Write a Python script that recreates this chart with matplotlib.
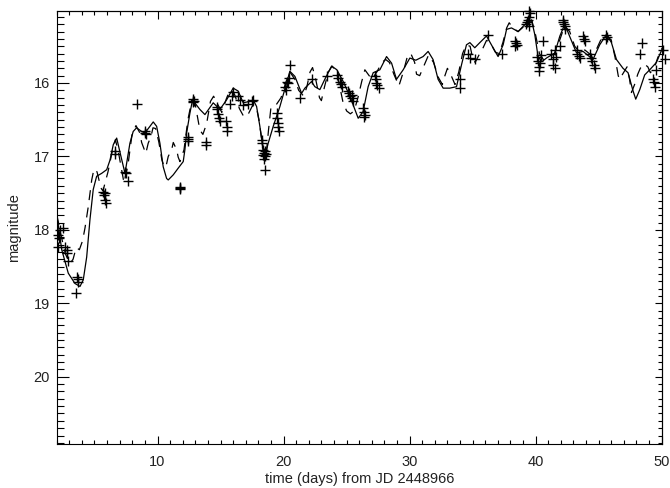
import numpy as np
import matplotlib
matplotlib.use("Agg")
import matplotlib.pyplot as plt
from matplotlib.ticker import MultipleLocator, FixedLocator

plt.rcParams['font.family'] = ['Liberation Sans', 'DejaVu Sans']

# model light curve (solid)
solid_t = [2.0, 2.08, 2.40, 2.92, 3.45, 3.85, 4.11, 4.38, 4.64, 4.90, 5.17, 5.57,
           5.97, 6.23, 6.49, 6.76, 7.10, 7.42, 7.81, 8.07, 8.34, 8.74, 9.00, 9.40,
           9.66, 9.93, 10.19, 10.45, 10.72, 10.85, 11.25, 11.64, 12.04, 12.17, 12.31,
           12.57, 12.78, 13.36, 13.76, 14.42, 14.95, 15.48, 16.00, 16.40, 16.80,
           17.33, 17.59, 17.86, 18.12, 18.38, 18.52, 18.78, 19.18, 19.71, 20.24,
           20.50, 20.90, 21.43, 21.69, 22.22, 22.48, 22.88, 23.27, 23.81, 24.23,
           24.73, 25.26, 25.92, 26.31, 26.71, 27.11, 27.64, 28.17, 28.57, 28.96,
           29.49, 30.02, 30.49, 31.07, 31.47, 31.86, 32.26, 32.66, 33.19, 33.72,
           34.12, 34.51, 34.78, 35.17, 35.57, 36.10, 36.62, 37.02, 37.42, 37.69,
           38.08, 38.61, 39.00, 39.40, 39.67, 39.93, 40.19, 40.49, 40.86, 41.52,
           41.92, 42.31, 42.71, 43.24, 43.76, 44.55, 45.08, 45.62, 46.01, 46.41,
           46.93, 47.33, 47.73, 47.94, 48.26, 48.65, 49.05, 49.58, 50.05]
solid_mag = [17.82, 17.88, 18.27, 18.59, 18.73, 18.77, 18.68, 18.37, 17.86, 17.45, 17.27, 17.23,
             17.18, 17.05, 16.84, 16.75, 17.00, 17.23, 16.82, 16.66, 16.61, 16.66, 16.68, 16.59,
             16.53, 16.59, 16.82, 17.14, 17.30, 17.32, 17.25, 17.16, 17.07, 16.91, 16.68,
             16.41, 16.23, 16.36, 16.43, 16.27, 16.36, 16.23, 16.07, 16.11, 16.27,
             16.25, 16.23, 16.32, 16.59, 16.91, 17.00, 16.82, 16.59, 16.32, 16.00,
             15.84, 15.91, 16.14, 16.07, 15.98, 16.05, 16.09, 15.95, 15.77, 15.82,
             15.98, 16.18, 16.48, 16.39, 16.05, 15.86, 15.82, 15.64, 15.73, 15.95,
             15.82, 15.66, 15.69, 15.64, 15.57, 15.68, 15.95, 16.07, 16.07, 16.05,
             15.75, 15.48, 15.45, 15.52, 15.45, 15.36, 15.52, 15.64, 15.48, 15.27,
             15.25, 15.30, 15.23, 15.16, 15.14, 15.34, 15.64, 15.71, 15.66, 15.59,
             15.36, 15.20, 15.37, 15.59, 15.57, 15.68, 15.48, 15.34, 15.45, 15.68,
             15.80, 15.86, 16.11, 16.22, 16.09, 15.89, 15.82, 15.72, 15.53]

# second model (dashed)
dashed_t = [2.02, 2.35, 2.70, 3.05, 3.30, 3.55, 3.80, 4.05, 4.25, 4.50, 4.78, 4.96,
            5.20, 5.51, 5.67, 6.07, 6.47, 6.66, 6.94, 7.34, 7.66, 7.97, 8.29, 8.60,
            8.74, 9.07, 9.26, 9.48, 9.64, 9.85, 10.10, 10.35, 10.55, 10.72, 10.85,
            11.12, 11.25, 11.52, 11.64, 11.78, 12.10, 12.41, 12.73, 13.00, 13.36,
            13.60, 13.90, 14.20, 14.45, 14.80, 15.10, 15.45, 15.75, 16.10, 16.50,
            16.85, 17.15, 17.50, 17.70, 17.90, 18.05, 18.25, 18.45, 18.60, 18.80,
            19.00, 19.40, 19.80, 20.20, 20.50, 20.90, 21.20, 21.60, 21.85, 22.10,
            22.30, 22.55, 22.85, 23.00, 23.25, 23.55, 23.85, 24.20, 24.40, 24.70,
            25.00, 25.30, 25.60, 25.90, 26.20, 26.45, 26.70, 27.00, 27.40, 27.80,
            28.10, 28.40, 28.75, 29.15, 29.50, 29.85, 30.10, 30.40, 30.55, 30.80,
            31.10, 31.50, 31.90, 32.30, 32.60, 32.80, 33.00, 33.30, 33.60, 33.90,
            34.20, 34.50, 34.80, 35.00, 35.20, 35.50, 35.75, 36.10, 36.40, 36.80,
            37.10, 37.40, 37.70, 37.90, 38.20, 38.60, 39.00, 39.40, 39.70, 40.00,
            40.30, 40.60, 41.00, 41.50, 41.90, 42.30, 42.70, 43.10, 43.50, 43.90,
            44.40, 44.80, 45.20, 45.60, 46.00, 46.30, 46.55, 46.65, 47.00, 47.25,
            47.45, 47.60, 47.85, 48.10, 48.30, 48.60, 48.90, 49.10, 49.40, 49.70,
            50.05]
dashed_mag = [17.80, 18.08, 18.33, 18.46, 18.40, 18.24, 18.27, 18.15, 17.97, 17.69, 17.32, 17.17,
              17.21, 17.43, 17.47, 17.21, 16.88, 16.77, 16.98, 17.36, 17.11, 16.71, 16.58, 16.68,
              16.81, 16.96, 16.82, 16.73, 16.61, 16.62, 16.80, 17.05, 17.15, 17.10, 17.00,
              16.91, 16.81, 16.91, 17.01, 17.07, 16.91, 16.50, 16.23, 16.30, 16.64,
              16.70, 16.55, 16.25, 16.18, 16.30, 16.40, 16.22, 16.09, 16.15, 16.35,
              16.46, 16.44, 16.32, 16.30, 16.38, 16.50, 16.75, 16.98, 17.02, 16.65,
              16.33, 16.30, 16.20, 15.98, 15.85, 15.95, 16.10, 16.18, 16.05, 15.85,
              15.79, 15.95, 16.20, 16.24, 16.05, 15.85, 15.77, 15.85, 16.00, 16.25,
              16.38, 16.42, 16.38, 16.20, 15.98, 15.82, 15.88, 15.95, 15.85, 15.72,
              15.68, 15.72, 15.88, 16.04, 15.85, 15.62, 15.60, 15.72, 15.88, 15.90,
              15.78, 15.62, 15.72, 15.93, 16.02, 15.90, 15.80, 15.90, 16.02, 15.85,
              15.60, 15.48, 15.50, 15.66, 15.72, 15.62, 15.55, 15.42, 15.45, 15.58,
              15.60, 15.45, 15.25, 15.18, 15.25, 15.30, 15.24, 15.17, 15.15, 15.35,
              15.60, 15.68, 15.64, 15.60, 15.42, 15.22, 15.30, 15.50, 15.58, 15.55,
              15.62, 15.55, 15.40, 15.34, 15.42, 15.65, 15.90, 15.95, 15.85, 15.78,
              15.95, 16.13, 16.02, 15.88, 15.80, 15.74, 15.78, 15.86, 15.80, 15.65,
              15.52]

# observed magnitudes
obs_t = [2.26, 2.52, 2.13, 2.18, 2.13, 2.66, 2.79, 2.79, 2.92, 3.59, 3.71, 3.71, 3.51,
         5.70, 5.77, 5.83, 5.89, 5.83, 6.62, 6.62, 7.42, 7.50, 7.68, 8.34,
         9.03, 9.00, 9.10, 11.78, 11.78, 11.82, 12.44, 12.44, 12.44,
         12.80, 12.83, 12.86, 12.78, 13.82, 13.82,
         14.69, 14.75, 14.79, 14.85, 14.95, 15.45, 15.50, 15.52,
         15.74, 15.88, 15.95, 16.40, 16.54, 16.80, 17.20, 17.46, 17.60,
         18.26, 18.26, 18.38, 18.44, 18.50, 18.40, 18.52, 18.46, 18.60, 18.52,
         19.45, 19.50, 19.55, 19.55, 19.60,
         20.10, 20.20, 20.25, 20.35, 20.45, 20.50, 21.29, 22.22, 23.41,
         24.20, 24.35, 24.45, 24.55, 24.65,
         25.10, 25.20, 25.30, 25.40, 25.45, 25.50,
         26.31, 26.38, 26.45, 26.40,
         27.24, 27.30, 27.37, 27.45, 27.55,
         33.98, 34.00, 34.64, 34.78, 35.17, 36.23, 37.29,
         38.34, 38.42, 38.48, 38.40,
         39.27, 39.35, 39.40, 39.47, 39.53, 39.45, 39.50,
         40.10, 40.20, 40.25, 40.30, 40.35, 40.45, 40.55,
         41.25, 41.35, 41.40, 41.50, 41.55, 41.65, 41.90,
         42.17, 42.20, 42.25, 42.30, 42.31,
         43.24, 43.30, 43.40, 43.50, 43.76, 43.85, 43.90,
         44.29, 44.40, 44.50, 44.60, 44.69, 45.60, 45.65, 45.62,
         48.40, 48.26, 49.31, 49.38, 49.45, 49.58, 50.10, 50.24]
obs_mag = [18.00, 17.98, 18.07, 18.11, 18.23, 18.23, 18.27, 18.32, 18.43, 18.64, 18.67, 18.71, 18.86,
           17.48, 17.52, 17.59, 17.63, 17.50, 16.93, 16.96, 17.21, 17.23, 17.34, 16.28,
           16.66, 16.68, 16.70, 17.41, 17.43, 17.45, 16.73, 16.76, 16.79,
           16.24, 16.22, 16.25, 16.26, 16.80, 16.84,
           16.32, 16.36, 16.42, 16.47, 16.52, 16.52, 16.60, 16.66,
           16.28, 16.18, 16.12, 16.18, 16.23, 16.30, 16.29, 16.25, 16.23,
           16.77, 16.82, 16.91, 16.95, 17.00, 16.98, 16.93, 17.03, 16.97, 17.18,
           16.41, 16.48, 16.55, 16.60, 16.66,
           16.05, 16.10, 15.98, 16.00, 15.93, 15.75, 16.20, 15.95, 15.91,
           15.89, 15.93, 15.98, 16.02, 16.05,
           16.11, 16.14, 16.18, 16.16, 16.21, 16.25,
           16.34, 16.39, 16.43, 16.46,
           15.91, 15.95, 16.00, 16.03, 16.07,
           15.95, 16.07, 15.61, 15.66, 15.68, 15.34, 15.61,
           15.43, 15.46, 15.48, 15.50,
           15.20, 15.17, 15.14, 15.10, 15.05, 15.23, 15.02,
           15.65, 15.70, 15.78, 15.84, 15.73, 15.62, 15.43,
           15.60, 15.68, 15.75, 15.80, 15.55, 15.64, 15.50,
           15.14, 15.17, 15.20, 15.23, 15.27,
           15.55, 15.60, 15.63, 15.66, 15.36, 15.40, 15.43,
           15.61, 15.66, 15.70, 15.75, 15.80, 15.34, 15.37, 15.40,
           15.45, 15.61, 15.95, 15.99, 16.05, 15.82, 15.55, 15.68]

x_major = [10, 20, 30, 40, 50]
y_major = [16, 17, 18, 19, 20]

fig = plt.figure(figsize=(6.7, 4.88), dpi=100)
ax = fig.add_axes([0.0846, 0.0895, 0.9034, 0.8879])

ax.plot(solid_t, solid_mag, color='black', lw=0.9)
ax.plot(dashed_t, dashed_mag, color='black', lw=0.9, linestyle=(0, (8, 6)))
ax.plot(obs_t, obs_mag, linestyle='none', marker='+', color='black',
        markersize=7.5, mew=1.0, clip_on=False)

ax.set_xlim(2.0, 50.02)
ax.set_ylim(20.92, 15.02)

txt = '#222222'
for s in ax.spines.values():
    s.set_linewidth(0.8)

ax.xaxis.set_major_locator(FixedLocator(x_major))
ax.xaxis.set_minor_locator(MultipleLocator(1))
ax.yaxis.set_major_locator(FixedLocator(y_major))
ax.yaxis.set_minor_locator(MultipleLocator(0.1))
ax.tick_params(axis='x', which='both', direction='in', top=False, labelsize=10.5,
               labelcolor=txt, pad=8, width=0.8)
ax.tick_params(axis='x', which='major', length=5.8)
ax.tick_params(axis='x', which='minor', length=2.6)
ax.tick_params(axis='y', which='both', direction='in', right=False, labelsize=10.5,
               labelcolor=txt, pad=5, width=0.8)
ax.tick_params(axis='y', which='major', length=8.4)
ax.tick_params(axis='y', which='minor', length=4.8)

top = ax.secondary_xaxis('top')
top.xaxis.set_major_locator(FixedLocator(x_major))
top.xaxis.set_minor_locator(MultipleLocator(1))
top.tick_params(which='both', direction='in', labeltop=False, width=0.8)
top.tick_params(which='major', length=6.0)
top.tick_params(which='minor', length=3.0)

right = ax.secondary_yaxis('right')
right.yaxis.set_major_locator(FixedLocator(y_major))
right.yaxis.set_minor_locator(MultipleLocator(0.1))
right.tick_params(which='both', direction='in', labelright=False, width=0.8)
right.tick_params(which='major', length=4.8)
right.tick_params(which='minor', length=3.1)

ax.set_xlabel('time (days) from JD 2448966', fontsize=10.5, color=txt, labelpad=2)
ax.set_ylabel('magnitude', fontsize=10.5, color=txt, labelpad=9)

fig.savefig('out.png', dpi=100)
